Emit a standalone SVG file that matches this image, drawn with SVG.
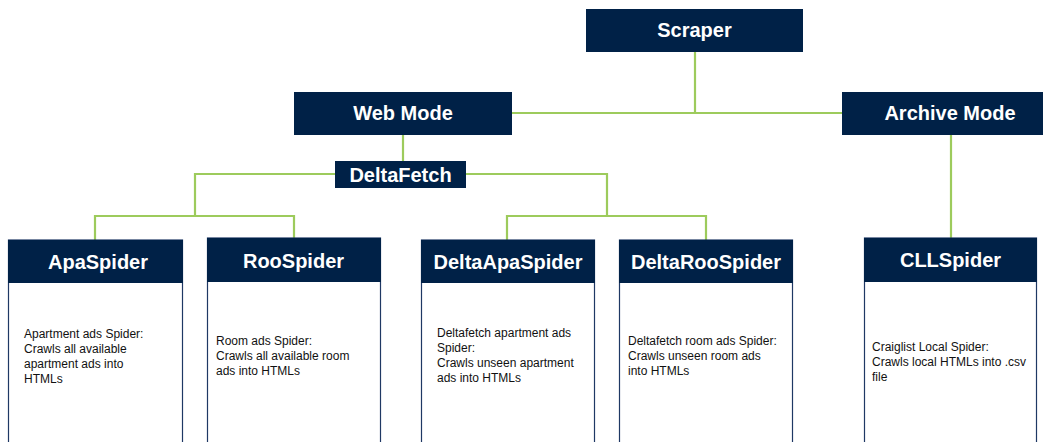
<svg xmlns="http://www.w3.org/2000/svg" width="1049" height="442" viewBox="0 0 1049 442">
<style>
.hdr{fill:#002147}
.body{fill:#ffffff;stroke:#1F3864;stroke-width:1.2}
.ht{font-family:"Liberation Sans",Arial,sans-serif;font-weight:bold;font-size:20px;fill:#ffffff;text-anchor:middle}
.bt{font-family:"Liberation Sans",Arial,sans-serif;font-size:12px;fill:#111111}
.con{fill:none;stroke:#9DCB5C;stroke-width:2.2}
</style>
<rect width="1049" height="442" fill="#ffffff"/>
<g id="connectors">
<path class="con" d="M695,52 V113 M512,113 H842"/>
<path class="con" d="M403,135 V161"/>
<path class="con" d="M335,174 H195 V216 M95,240 V216 H294 V240"/>
<path class="con" d="M466,174 H607 V216 M507,240 V216 H706 V240"/>
<path class="con" d="M951,135 V238"/>
</g>
<g id="scraper">
<rect class="hdr" x="586" y="9" width="217" height="43"/>
<text class="ht" x="694.5" y="37">Scraper</text>
</g>
<g id="webmode">
<rect class="hdr" x="294" y="92" width="218" height="43"/>
<text class="ht" x="403" y="120">Web Mode</text>
</g>
<g id="archivemode">
<rect class="hdr" x="842" y="92" width="201" height="43"/>
<text class="ht" x="950" y="120">Archive Mode</text>
</g>
<g id="deltafetch">
<rect class="hdr" x="335" y="161" width="131" height="27"/>
<text class="ht" x="400.5" y="182">DeltaFetch</text>
</g>
<g id="apaspider">
<rect class="body" x="8.5" y="240" width="174" height="210"/>
<rect class="hdr" x="8" y="240" width="175" height="43"/>
<text class="ht" x="98" y="269">ApaSpider</text>
<text class="bt" x="24" y="337.5">Apartment ads Spider:<tspan x="24" dy="15">Crawls all available</tspan><tspan x="24" dy="15">apartment ads into</tspan><tspan x="24" dy="15">HTMLs</tspan></text>
</g>
<g id="roospider">
<rect class="body" x="207.5" y="238" width="173" height="212"/>
<rect class="hdr" x="207" y="238" width="174" height="44"/>
<text class="ht" x="293.5" y="268">RooSpider</text>
<text class="bt" x="216" y="344.5">Room ads Spider:<tspan x="216" dy="15">Crawls all available room</tspan><tspan x="216" dy="15">ads into HTMLs</tspan></text>
</g>
<g id="deltaapaspider">
<rect class="body" x="421.5" y="240" width="173" height="210"/>
<rect class="hdr" x="421" y="240" width="174" height="43"/>
<text class="ht" x="508" y="269">DeltaApaSpider</text>
<text class="bt" x="437" y="337">Deltafetch apartment ads<tspan x="437" dy="15">Spider:</tspan><tspan x="437" dy="15">Crawls unseen apartment</tspan><tspan x="437" dy="15">ads into HTMLs</tspan></text>
</g>
<g id="deltaroospider">
<rect class="body" x="619.5" y="240" width="173" height="210"/>
<rect class="hdr" x="619" y="240" width="174" height="43"/>
<text class="ht" x="706" y="269">DeltaRooSpider</text>
<text class="bt" x="628" y="344.5">Deltafetch room ads Spider:<tspan x="628" dy="15">Crawls unseen room ads</tspan><tspan x="628" dy="15">into HTMLs</tspan></text>
</g>
<g id="cllspider">
<rect class="body" x="864.5" y="238" width="172" height="212"/>
<rect class="hdr" x="864" y="238" width="173" height="44"/>
<text class="ht" x="950.5" y="267">CLLSpider</text>
<text class="bt" x="872" y="351">Craiglist Local Spider:<tspan x="872" dy="15">Crawls local HTMLs into .csv</tspan><tspan x="872" dy="15">file</tspan></text>
</g>
</svg>
